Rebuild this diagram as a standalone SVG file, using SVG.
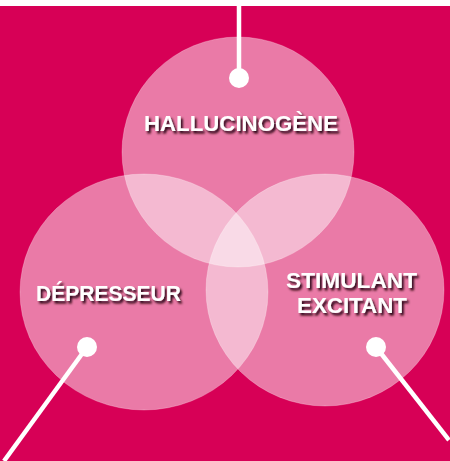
<svg xmlns="http://www.w3.org/2000/svg" width="450" height="461" viewBox="0 0 450 461">
<defs>
<style>
.bg{fill:#D70056}
.c{fill:#fff;fill-opacity:0.48;stroke:#fff;stroke-opacity:0.25;stroke-width:1}
.ln{stroke:#fff;stroke-width:4.5;fill:none}
.dot{fill:#fff}
.t{font-family:"Liberation Sans",Arial,sans-serif;font-weight:bold;font-size:21.5px;fill:#fff;filter:url(#sh)}
</style>
<filter id="sh" x="-10%" y="-40%" width="130%" height="200%">
<feDropShadow dx="2" dy="2.5" stdDeviation="1.3" flood-color="#22000f" flood-opacity="0.95"/>
</filter>
</defs>
<rect x="0" y="0" width="450" height="461" fill="#fff"/>
<rect class="bg" x="0" y="6" width="450" height="455"/>
<g id="circles">
<g id="hallucinogene"><ellipse class="c" cx="238" cy="152" rx="116" ry="115"/></g>
<g id="depresseur"><ellipse class="c" cx="144" cy="292" rx="124" ry="118"/></g>
<g id="stimulant"><ellipse class="c" cx="325" cy="290" rx="119" ry="116"/></g>
</g>
<g id="connectors">
<line class="ln" x1="239" y1="0" x2="239" y2="78"/>
<circle class="dot" cx="239" cy="78" r="10"/>
<line class="ln" x1="87" y1="347" x2="4" y2="461"/>
<circle class="dot" cx="87" cy="347" r="10"/>
<line class="ln" x1="376" y1="347" x2="449" y2="440"/>
<circle class="dot" cx="376" cy="347" r="10"/>
</g>
<g id="labels">
<text class="t" x="144" y="131" textLength="194" lengthAdjust="spacingAndGlyphs">HALLUCINOGÈNE</text>
<text class="t" x="36" y="301" textLength="145" lengthAdjust="spacingAndGlyphs">DÉPRESSEUR</text>
<text class="t" x="286" y="288" textLength="131" lengthAdjust="spacingAndGlyphs">STIMULANT</text>
<text class="t" x="297" y="313" textLength="110" lengthAdjust="spacingAndGlyphs">EXCITANT</text>
</g>
</svg>
